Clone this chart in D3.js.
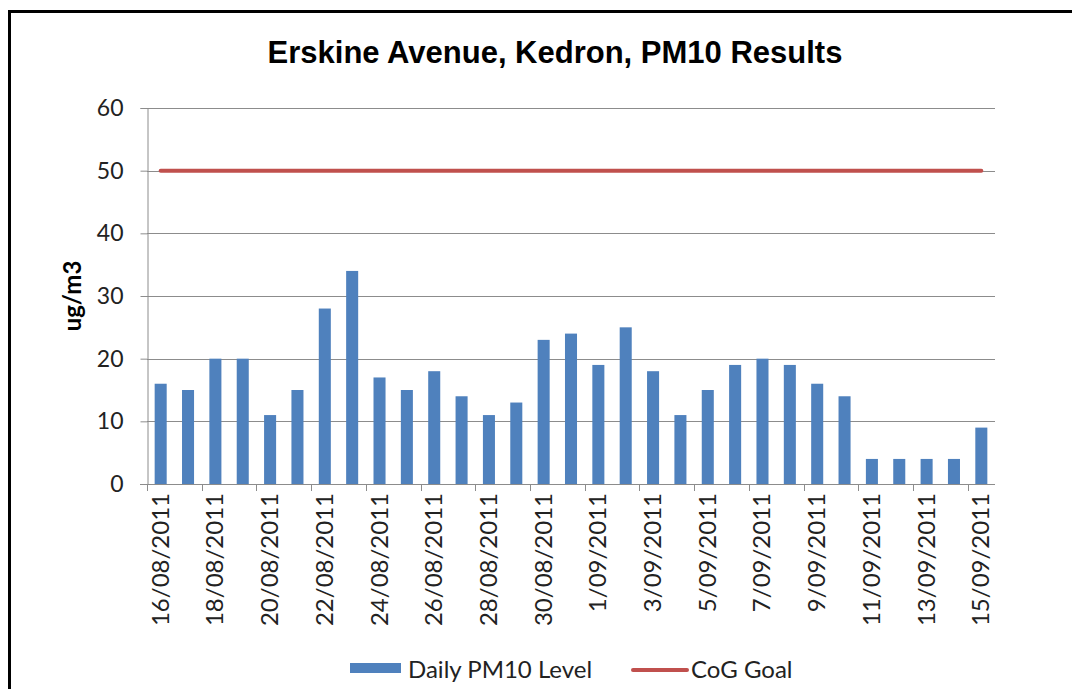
<!DOCTYPE html>
<html lang="en">
<head>
    <meta charset="UTF-8">
    <title>Erskine Avenue, Kedron, PM10 Results</title>
    <script src="https://d3js.org/d3.v7.min.js"></script>
    <style>
        body { margin: 0; background: #fff; }
        svg { display: block; }
    </style>
</head>
<body>
    <svg width="1072" height="689"></svg>

    <script>
        // daily readings, 16/08/2011 - 15/09/2011
        const dates = [
            "16/08/2011", "17/08/2011", "18/08/2011", "19/08/2011", "20/08/2011", "21/08/2011",
            "22/08/2011", "23/08/2011", "24/08/2011", "25/08/2011", "26/08/2011", "27/08/2011",
            "28/08/2011", "29/08/2011", "30/08/2011", "31/08/2011", "1/09/2011", "2/09/2011",
            "3/09/2011", "4/09/2011", "5/09/2011", "6/09/2011", "7/09/2011", "8/09/2011",
            "9/09/2011", "10/09/2011", "11/09/2011", "12/09/2011", "13/09/2011", "14/09/2011",
            "15/09/2011"
        ];
        const pm10 = [16, 15, 20, 20, 11, 15, 28, 34, 17, 15, 18, 14, 11, 13, 23, 24,
                      19, 25, 18, 11, 15, 19, 20, 19, 16, 14, 4, 4, 4, 4, 9];
        const goal = dates.map(() => 50);
        const yTicks = [0, 10, 20, 30, 40, 50, 60];

        const width = 1072, height = 689;
        const margin = { top: 108, right: 77, bottom: 205, left: 147 };
        const labelFont = "Lato, 'Open Sans', sans-serif";

        const svg = d3.select("svg");

        // frame (top and left edges only)
        svg.append("path")
            .attr("d", `M9.5,${height} V11.5 H${width}`)
            .attr("fill", "none")
            .attr("stroke", "#000")
            .attr("stroke-width", 3);

        const x = d3.scaleBand()
            .domain(dates)
            .range([margin.left, width - margin.right])
            .paddingInner(0.56)
            .paddingOuter(0.28);

        const y = d3.scaleLinear()
            .domain([0, 60])
            .range([height - margin.bottom, margin.top]);

        // gridlines
        svg.append("g")
            .selectAll("line")
            .data(yTicks.slice(1))
            .join("line")
            .attr("x1", margin.left)
            .attr("x2", width - margin.right)
            .attr("y1", d => Math.round(y(d)) + 0.5)
            .attr("y2", d => Math.round(y(d)) + 0.5)
            .attr("stroke", "#8c8c8c")
            .attr("stroke-width", 1);

        // y axis
        const yAxis = svg.append("g")
            .attr("transform", `translate(${margin.left + 0.5},0)`)
            .call(d3.axisLeft(y).tickValues(yTicks).tickSize(7).tickPadding(17));
        yAxis.select(".domain").attr("stroke", "#8c8c8c");
        yAxis.selectAll(".tick line").attr("stroke", "#8c8c8c");
        yAxis.selectAll(".tick text")
            .attr("font-family", labelFont)
            .attr("font-size", 23)
            .attr("fill", "#222");

        // bars
        svg.append("g")
            .selectAll("rect")
            .data(pm10)
            .join("rect")
            .attr("x", (d, i) => x(dates[i]))
            .attr("width", x.bandwidth())
            .attr("y", d => y(d))
            .attr("height", d => y(0) - y(d))
            .attr("fill", "#4f81bd");

        // x axis baseline + ticks every second day
        const step = x.step();
        const x0 = margin.left;
        const xAxis = svg.append("g");
        xAxis.append("line")
            .attr("x1", x0 - 7).attr("x2", width - margin.right)
            .attr("y1", Math.round(y(0)) + 0.5).attr("y2", Math.round(y(0)) + 0.5)
            .attr("stroke", "#8c8c8c");
        const tickIdx = d3.range(0, dates.length + 1, 2);
        xAxis.selectAll(".xtick")
            .data(tickIdx)
            .join("line")
            .attr("class", "xtick")
            .attr("x1", i => Math.round(x0 + i * step) + 0.5)
            .attr("x2", i => Math.round(x0 + i * step) + 0.5)
            .attr("y1", y(0))
            .attr("y2", y(0) + 7)
            .attr("stroke", "#8c8c8c");

        xAxis.selectAll(".xlabel")
            .data(dates.filter((d, i) => i % 2 === 0))
            .join("text")
            .attr("class", "xlabel")
            .attr("transform", d => `translate(${x(d) + x.bandwidth() / 2 + 8},${y(0) + 9}) rotate(-90)`)
            .attr("text-anchor", "end")
            .attr("font-family", labelFont)
            .attr("font-size", 24)
            .attr("fill", "#222")
            .text(d => d);

        // CoG goal line
        const line = d3.line()
            .x((d, i) => x(dates[i]) + x.bandwidth() / 2)
            .y(d => y(d));
        svg.append("path")
            .datum(goal)
            .attr("d", line)
            .attr("fill", "none")
            .attr("stroke", "#c0504d")
            .attr("stroke-width", 4)
            .attr("stroke-linecap", "round");

        // y axis title
        svg.append("text")
            .attr("transform", `translate(81,${y(30)}) rotate(-90)`)
            .attr("text-anchor", "middle")
            .attr("font-family", labelFont)
            .attr("font-weight", "bold")
            .attr("font-size", 24)
            .attr("fill", "#000")
            .text("ug/m3");

        // title
        svg.append("text")
            .attr("x", 555)
            .attr("y", 63)
            .attr("text-anchor", "middle")
            .attr("font-family", "'Liberation Sans', Arial, sans-serif")
            .attr("font-weight", "bold")
            .attr("font-size", 31)
            .attr("fill", "#000")
            .text("Erskine Avenue, Kedron, PM10 Results");

        // legend
        const legend = svg.append("g").attr("font-family", labelFont).attr("font-size", 24).attr("fill", "#222");
        legend.append("rect")
            .attr("x", 350).attr("y", 663).attr("width", 51).attr("height", 10)
            .attr("fill", "#4f81bd");
        legend.append("text").attr("x", 408).attr("y", 678).text("Daily PM10 Level");
        legend.append("line")
            .attr("x1", 633).attr("x2", 687).attr("y1", 670).attr("y2", 670)
            .attr("stroke", "#c0504d").attr("stroke-width", 4).attr("stroke-linecap", "round");
        legend.append("text").attr("x", 691).attr("y", 678).text("CoG Goal");
    </script>
</body>
</html>
